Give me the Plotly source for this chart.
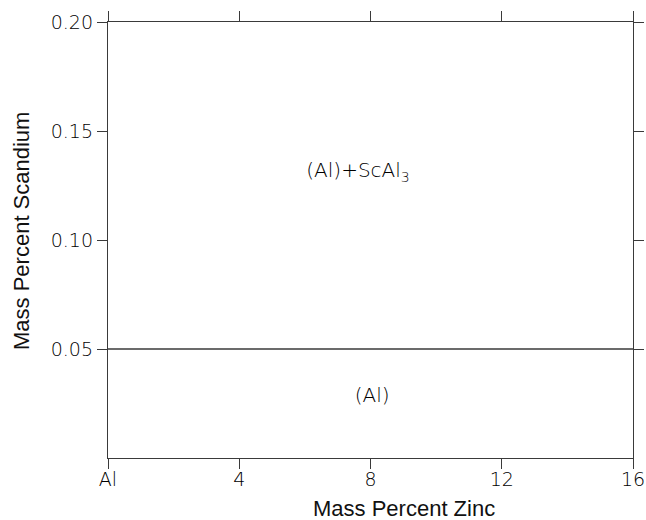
import plotly.graph_objects as go

# data
x_range = [0, 16]
y_range = [0, 0.20]
x_tickvals = [0, 4, 8, 12, 16]
x_ticktext = ["Al", "4", "8", "12", "16"]
y_tickvals = [0.05, 0.10, 0.15, 0.20]
y_ticktext = ["0.05", "0.10", "0.15", "0.20"]
boundary_x = [0, 16]
boundary_y = [0.05, 0.05]
label_text = ["(Al)+ScAl<sub>3</sub>", "(Al)"]
label_x = [7.62, 8.05]
label_y = [0.131, 0.028]
x_title = "Mass Percent Zinc"
y_title = "Mass Percent Scandium"

LINE = "#3a3a3a"
fig = go.Figure()
fig.add_trace(go.Scatter(x=boundary_x, y=boundary_y, mode="lines",
                         line=dict(color=LINE, width=1.3), showlegend=False,
                         hoverinfo="skip", cliponaxis=False))
fig.add_trace(go.Scatter(x=label_x, y=label_y, mode="text", text=label_text,
                         textfont=dict(family="DejaVu Sans", size=20, color="#000", weight=200),
                         showlegend=False, hoverinfo="skip"))

tickfont = dict(family="DejaVu Sans", size=19, color="#000", weight=200)
axis_common = dict(showgrid=False, zeroline=False, showline=True, linecolor=LINE, linewidth=1.3,
                   mirror="ticks", ticks="outside", ticklen=10, tickcolor=LINE, tickwidth=1.3,
                   tickfont=tickfont, automargin=False)
fig.update_layout(
    width=646, height=520,
    margin=dict(l=108, r=13, t=22, b=62, autoexpand=False),
    paper_bgcolor="white", plot_bgcolor="white",
    xaxis=dict(range=x_range, tickvals=x_tickvals, ticktext=x_ticktext,
               ticklabelstandoff=-6, **axis_common),
    yaxis=dict(range=y_range, tickvals=y_tickvals, ticktext=y_ticktext, **axis_common),
    annotations=[
        dict(text=x_title, xref="paper", yref="paper", x=(404 - 108) / 525, y=-(508 - 458) / 436,
             xanchor="center", yanchor="middle", showarrow=False, borderpad=0,
             font=dict(family="Liberation Sans", size=22, color="#111")),
        dict(text=y_title, xref="paper", yref="paper", x=-(108 - 22) / 525, y=(458 - 231) / 436,
             xanchor="center", yanchor="middle", showarrow=False, textangle=-90, borderpad=0,
             font=dict(family="Liberation Sans", size=22, color="#111")),
    ],
)
fig.write_html("out.html", config={"displayModeBar": False},
               post_script="document.body.style.margin='0';document.body.style.padding='0';")
